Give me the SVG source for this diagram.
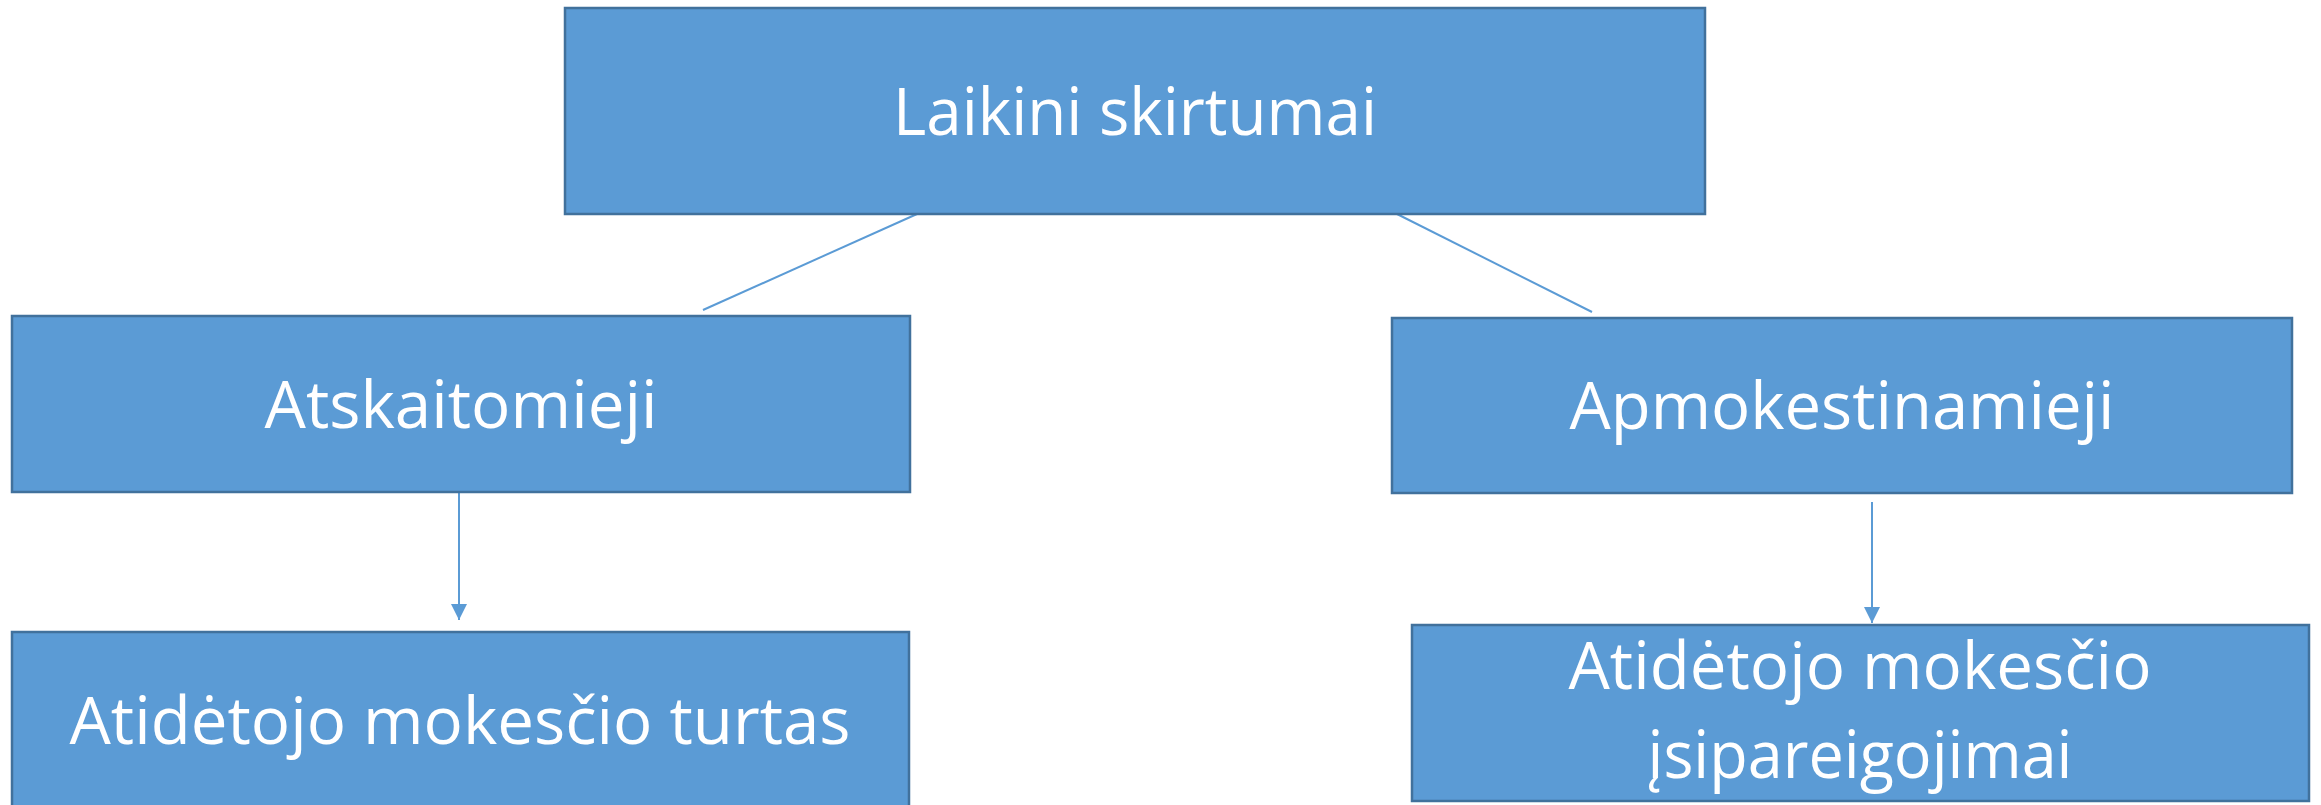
<svg xmlns="http://www.w3.org/2000/svg" width="2321" height="805" viewBox="0 0 2321 805">
  <style>
    .box { fill: #5B9BD5; stroke: #41719C; stroke-width: 2.5; }
    .label { fill: #FFFFFF; font-family: "Open Sans", "Noto Sans", sans-serif; font-size: 66px; text-anchor: middle; }
    .edge { stroke: #5B9BD5; stroke-width: 2; fill: none; }
  </style>
  <defs>
    <marker id="arrowhead" viewBox="0 0 16 16" refX="16" refY="8" markerWidth="16" markerHeight="16" markerUnits="userSpaceOnUse" orient="auto">
      <path d="M0,0 L16,8 L0,16 Z" fill="#5B9BD5"/>
    </marker>
  </defs>

  <g id="connectors">
    <line class="edge" x1="917" y1="214" x2="703" y2="310"/>
    <line class="edge" x1="1397" y1="214" x2="1592" y2="312"/>
    <line class="edge" x1="459" y1="493" x2="459" y2="620" marker-end="url(#arrowhead)"/>
    <line class="edge" x1="1872" y1="502" x2="1872" y2="623" marker-end="url(#arrowhead)"/>
  </g>

  <g id="node-laikini-skirtumai">
    <rect class="box" x="565" y="8" width="1140" height="206"/>
    <text class="label" x="1135" y="135" textLength="484" lengthAdjust="spacingAndGlyphs">Laikini skirtumai</text>
  </g>

  <g id="node-atskaitomieji">
    <rect class="box" x="12" y="316" width="898" height="176"/>
    <text class="label" x="461" y="428" textLength="393" lengthAdjust="spacingAndGlyphs">Atskaitomieji</text>
  </g>

  <g id="node-apmokestinamieji">
    <rect class="box" x="1392" y="318" width="900" height="175"/>
    <text class="label" x="1842" y="429" textLength="545" lengthAdjust="spacingAndGlyphs">Apmokestinamieji</text>
  </g>

  <g id="node-turtas">
    <rect class="box" x="12" y="632" width="897" height="190"/>
    <text class="label" x="460" y="744" textLength="781" lengthAdjust="spacingAndGlyphs">Atidėtojo mokesčio turtas</text>
  </g>

  <g id="node-isipareigojimai">
    <rect class="box" x="1412" y="625" width="897" height="176"/>
    <text class="label" x="1860" y="689" textLength="583" lengthAdjust="spacingAndGlyphs">Atidėtojo mokesčio</text>
    <text class="label" x="1860" y="778" textLength="425" lengthAdjust="spacingAndGlyphs">įsipareigojimai</text>
  </g>
</svg>
